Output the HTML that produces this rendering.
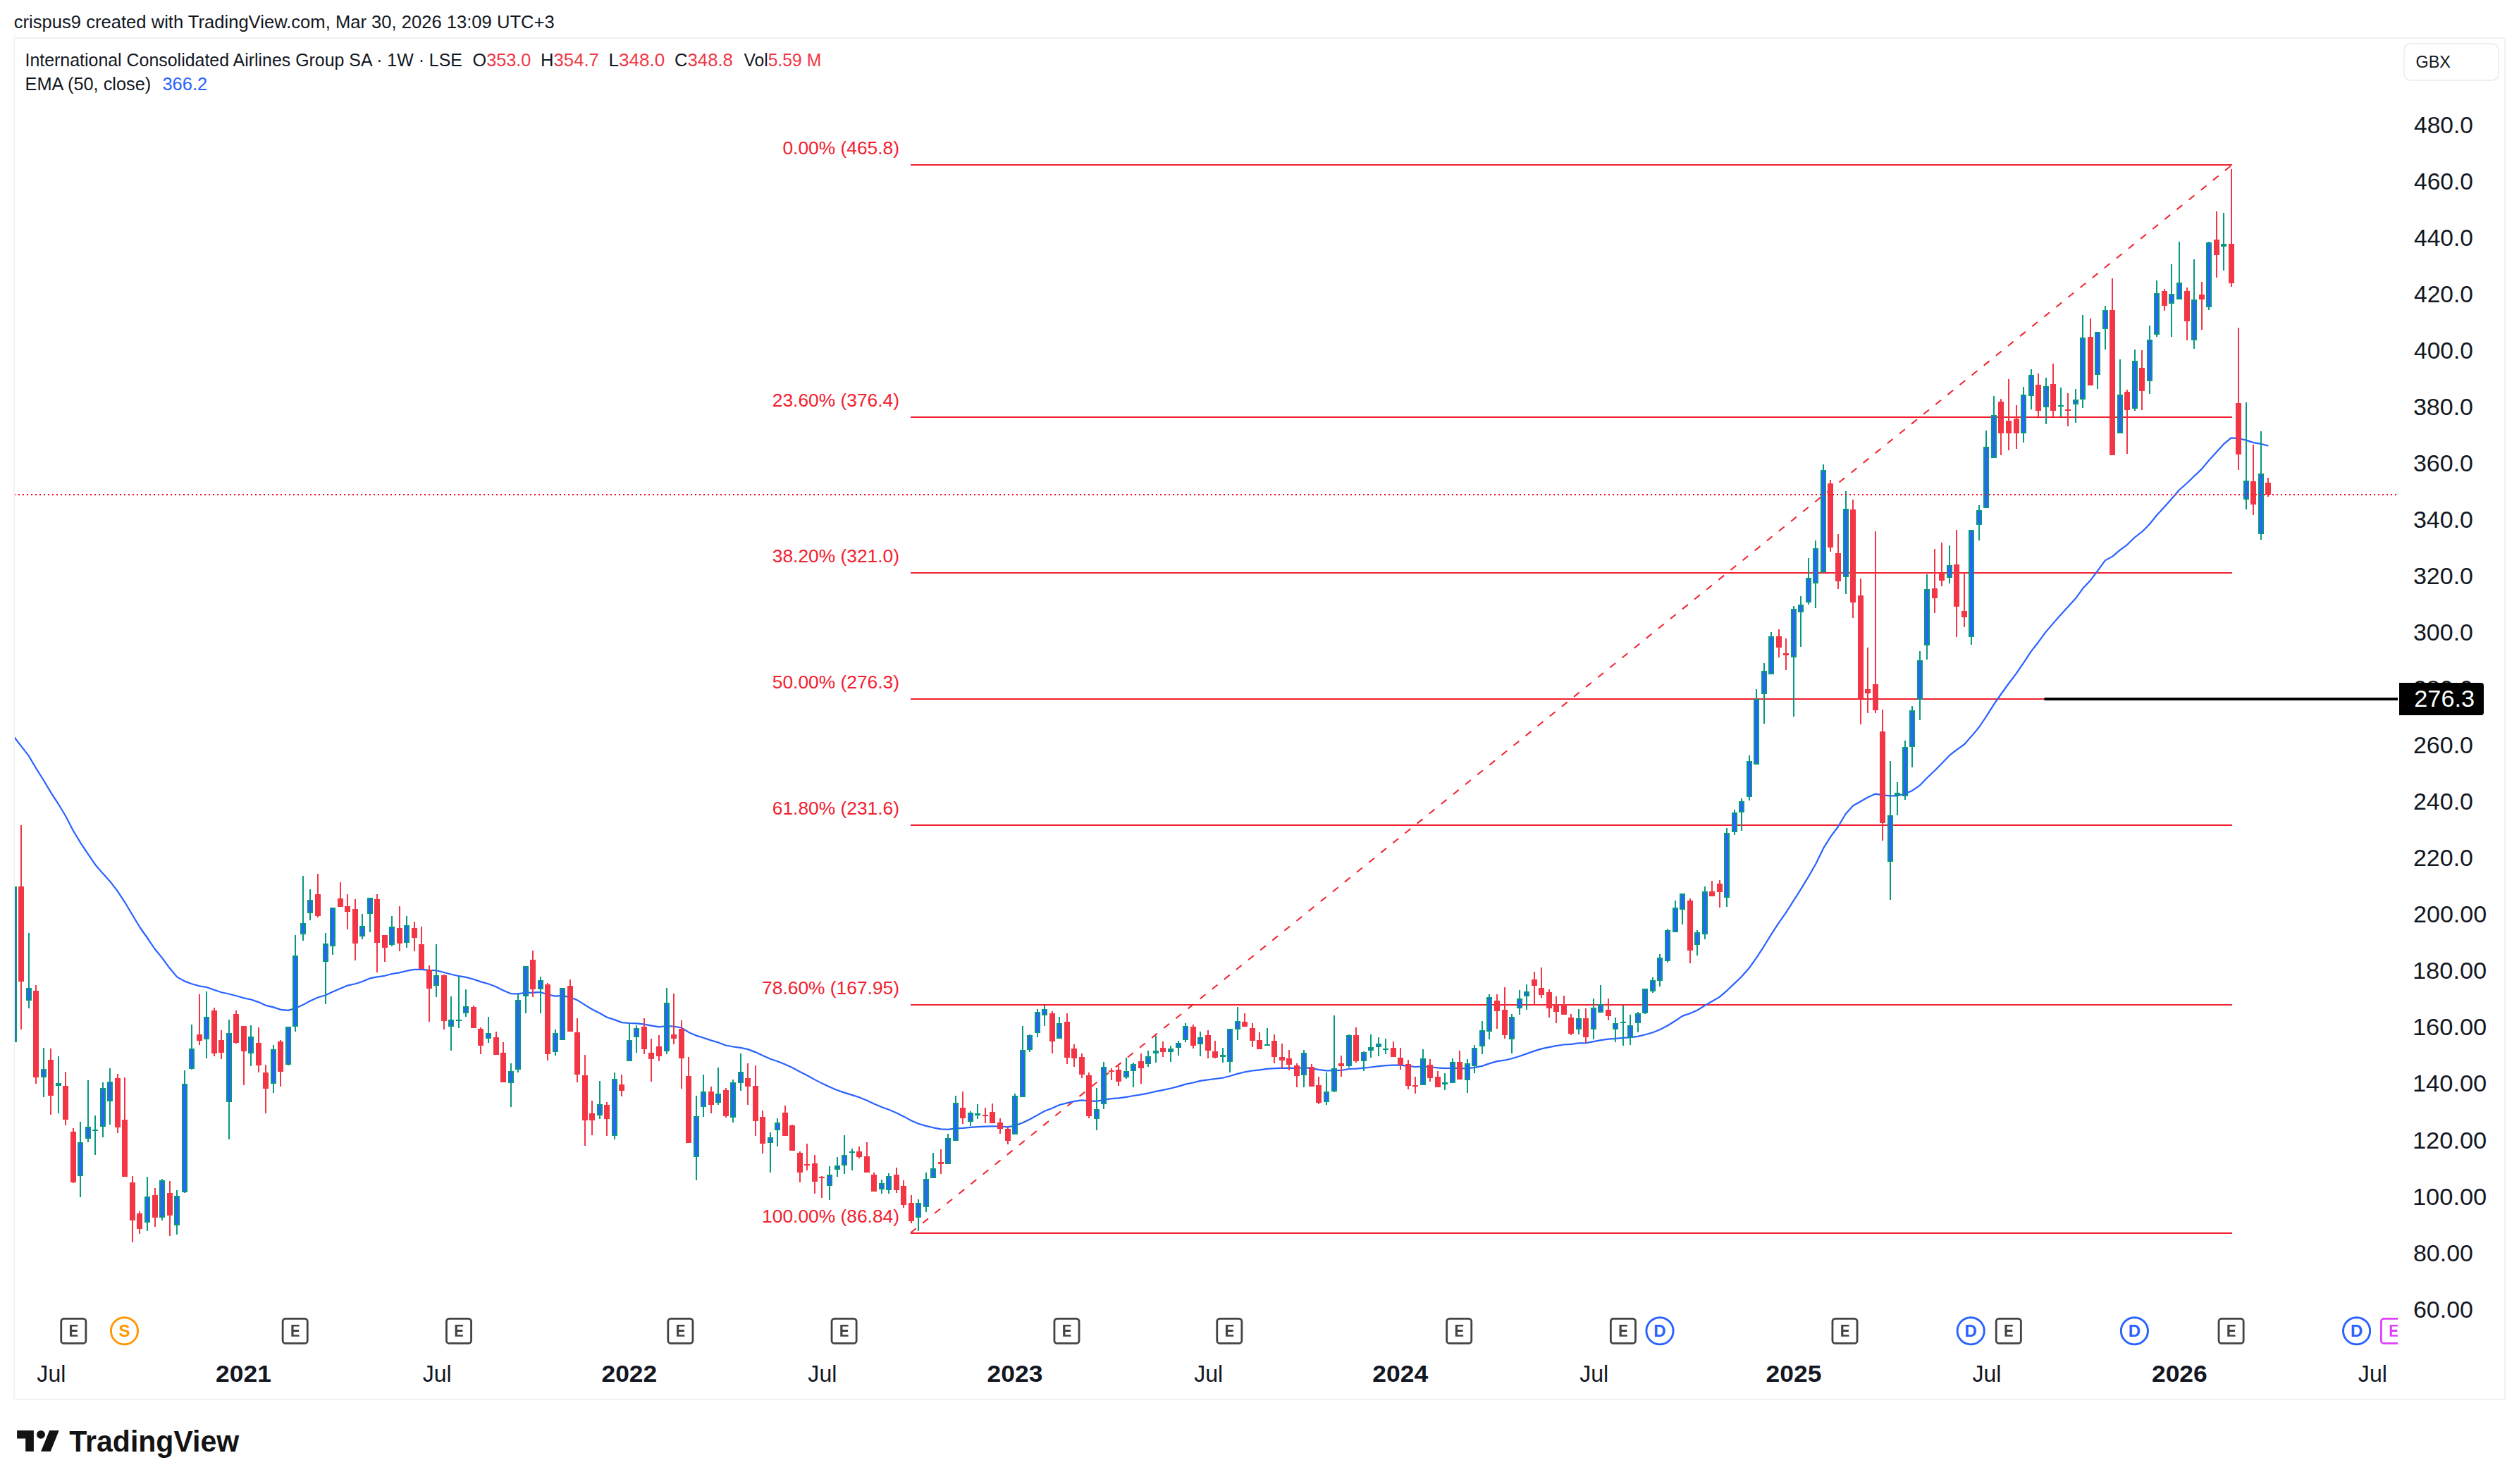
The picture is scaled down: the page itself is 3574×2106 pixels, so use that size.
<!DOCTYPE html><html><head><meta charset="utf-8"><title>IAG 1W TradingView</title><style>html,body{margin:0;padding:0;background:#fff}body{width:3574px;height:2106px;overflow:hidden;position:relative}svg{position:absolute;left:0;top:0}text{font-family:"Liberation Sans",sans-serif;white-space:pre}</style></head><body>
<svg width="3574" height="2106" viewBox="0 0 3574 2106">
<rect width="3574" height="2106" fill="#ffffff"/>
<rect x="20" y="54" width="3534" height="1932" fill="none" stroke="#f2f2f2" stroke-width="2"/>
<defs><clipPath id="pane"><rect x="21" y="55" width="3381" height="1930"/></clipPath></defs>
<g clip-path="url(#pane)">
<rect x="1292" y="233" width="1875" height="2" fill="#f2202f"/>
<text x="1110.46" y="219" font-size="25.5" fill="#f2202f" textLength="165.58" lengthAdjust="spacingAndGlyphs">0.00% (465.8)</text>
<rect x="1292" y="591" width="1875" height="2" fill="#f2202f"/>
<text x="1095.80" y="577" font-size="25.5" fill="#f2202f" textLength="180.24" lengthAdjust="spacingAndGlyphs">23.60% (376.4)</text>
<rect x="1292" y="812" width="1875" height="2" fill="#f2202f"/>
<text x="1095.80" y="798" font-size="25.5" fill="#f2202f" textLength="180.24" lengthAdjust="spacingAndGlyphs">38.20% (321.0)</text>
<rect x="1292" y="991" width="1875" height="2" fill="#f2202f"/>
<text x="1095.80" y="977" font-size="25.5" fill="#f2202f" textLength="180.24" lengthAdjust="spacingAndGlyphs">50.00% (276.3)</text>
<rect x="1292" y="1170" width="1875" height="2" fill="#f2202f"/>
<text x="1095.80" y="1156" font-size="25.5" fill="#f2202f" textLength="180.24" lengthAdjust="spacingAndGlyphs">61.80% (231.6)</text>
<rect x="1292" y="1425" width="1875" height="2" fill="#f2202f"/>
<text x="1081.14" y="1411" font-size="25.5" fill="#f2202f" textLength="194.90" lengthAdjust="spacingAndGlyphs">78.60% (167.95)</text>
<rect x="1292" y="1749" width="1875" height="2" fill="#f2202f"/>
<text x="1081.14" y="1735" font-size="25.5" fill="#f2202f" textLength="194.90" lengthAdjust="spacingAndGlyphs">100.00% (86.84)</text>
<line x1="1292" y1="1749.5" x2="3167" y2="233.9" stroke="#f2202f" stroke-width="2" stroke-dasharray="10 12"/>
<polyline points="19.6,1045.3 30.1,1058.9 40.6,1072.4 51.2,1090.3 61.7,1107.0 72.2,1124.6 82.7,1140.8 93.2,1158.3 103.8,1178.7 114.3,1196.1 124.8,1211.9 135.3,1227.2 145.9,1239.6 156.4,1251.2 166.9,1264.9 177.4,1280.8 187.9,1298.5 198.5,1316.0 209.0,1331.0 219.5,1346.5 230.0,1359.4 240.6,1373.8 251.1,1386.4 261.6,1392.4 272.1,1396.2 282.6,1399.3 293.2,1401.0 303.7,1404.7 314.2,1408.2 324.7,1410.5 335.2,1413.2 345.8,1416.3 356.3,1418.5 366.8,1422.1 377.3,1426.9 387.9,1429.4 398.4,1432.9 408.9,1433.9 419.4,1430.8 429.9,1426.1 440.5,1420.2 451.0,1415.5 461.5,1412.5 472.0,1407.6 482.6,1402.9 493.1,1398.6 503.6,1396.3 514.1,1393.0 524.6,1388.4 535.2,1386.4 545.7,1384.8 556.2,1382.0 566.7,1380.4 577.3,1377.7 587.8,1375.9 598.3,1375.9 608.8,1376.9 619.3,1377.2 629.9,1380.0 640.4,1382.7 650.9,1385.2 661.4,1386.9 672.0,1389.7 682.5,1393.4 693.0,1396.3 703.5,1400.2 714.0,1405.6 724.6,1410.1 735.1,1410.4 745.6,1408.9 756.1,1408.7 766.7,1408.0 777.2,1411.5 787.7,1413.6 798.2,1413.1 808.7,1415.1 819.3,1419.4 829.8,1426.1 840.3,1432.5 850.8,1437.8 861.4,1443.7 871.9,1447.1 882.4,1451.1 892.9,1452.0 903.4,1452.3 914.0,1453.7 924.5,1455.6 935.0,1457.3 945.5,1456.0 956.0,1456.7 966.6,1458.5 977.1,1464.9 987.6,1469.6 998.1,1472.7 1008.7,1476.4 1019.2,1479.4 1029.7,1483.5 1040.2,1485.5 1050.7,1486.9 1061.3,1489.1 1071.8,1493.1 1082.3,1498.1 1092.8,1502.7 1103.4,1506.2 1113.9,1510.4 1124.4,1515.2 1134.9,1521.0 1145.4,1526.2 1156.0,1532.1 1166.5,1537.6 1177.0,1542.6 1187.5,1547.0 1198.1,1550.6 1208.6,1553.9 1219.1,1557.3 1229.6,1561.5 1240.1,1566.6 1250.7,1571.0 1261.2,1574.8 1271.7,1579.3 1282.2,1584.4 1292.8,1590.2 1303.3,1594.8 1313.8,1597.9 1324.3,1600.3 1334.8,1602.3 1345.4,1602.8 1355.9,1601.3 1366.4,1600.8 1376.9,1599.9 1387.5,1599.1 1398.0,1598.6 1408.5,1598.4 1419.0,1598.5 1429.5,1599.3 1440.1,1597.6 1450.6,1593.4 1461.1,1588.5 1471.6,1582.6 1482.1,1576.7 1492.7,1572.8 1503.2,1568.0 1513.7,1565.4 1524.2,1562.9 1534.8,1561.4 1545.3,1562.3 1555.8,1562.8 1566.3,1560.9 1576.8,1559.2 1587.4,1558.3 1597.9,1556.8 1608.4,1555.0 1618.9,1553.4 1629.5,1551.3 1640.0,1548.9 1650.5,1546.8 1661.0,1544.5 1671.5,1541.9 1682.1,1538.6 1692.6,1536.5 1703.1,1533.9 1713.6,1532.3 1724.2,1531.0 1734.7,1529.7 1745.2,1527.0 1755.7,1523.9 1766.2,1521.3 1776.8,1519.5 1787.3,1518.3 1797.8,1516.9 1808.3,1516.2 1818.9,1515.8 1829.4,1515.6 1839.9,1516.0 1850.4,1515.2 1860.9,1516.2 1871.5,1518.1 1882.0,1519.3 1892.5,1519.2 1903.0,1519.0 1913.6,1517.0 1924.1,1516.6 1934.6,1515.6 1945.1,1514.5 1955.6,1513.2 1966.2,1512.2 1976.7,1511.7 1987.2,1511.7 1997.7,1512.8 2008.2,1514.0 2018.8,1513.5 2029.3,1514.2 2039.8,1515.3 2050.3,1516.1 2060.9,1515.7 2071.4,1516.3 2081.9,1516.1 2092.4,1514.9 2102.9,1512.9 2113.5,1509.1 2124.0,1506.1 2134.5,1504.7 2145.0,1502.3 2155.6,1499.0 2166.1,1495.4 2176.6,1491.6 2187.1,1488.4 2197.6,1486.2 2208.2,1484.2 2218.7,1482.5 2229.2,1481.8 2239.7,1480.4 2250.3,1480.1 2260.8,1478.1 2271.3,1476.1 2281.8,1474.7 2292.3,1473.8 2302.9,1472.9 2313.4,1472.2 2323.9,1470.9 2334.4,1468.2 2345.0,1465.2 2355.5,1461.0 2366.0,1455.5 2376.5,1449.0 2387.0,1441.9 2397.6,1438.2 2408.1,1433.7 2418.6,1427.1 2429.1,1421.0 2439.7,1414.9 2450.2,1405.8 2460.7,1395.9 2471.2,1385.8 2481.7,1373.8 2492.3,1358.8 2502.8,1342.8 2513.3,1325.6 2523.8,1309.6 2534.3,1294.7 2544.9,1277.9 2555.4,1261.4 2565.9,1244.1 2576.4,1225.8 2587.0,1203.9 2597.5,1187.2 2608.0,1173.0 2618.5,1155.3 2629.0,1143.5 2639.6,1137.5 2650.1,1131.5 2660.6,1126.7 2671.1,1128.3 2681.7,1129.4 2692.2,1129.3 2702.7,1126.6 2713.2,1121.9 2723.7,1114.7 2734.3,1103.8 2744.8,1093.8 2755.3,1083.2 2765.8,1072.2 2776.4,1063.9 2786.9,1056.5 2797.4,1044.6 2807.9,1032.0 2818.4,1016.4 2829.0,999.6 2839.5,984.5 2850.0,970.0 2860.5,956.1 2871.1,940.6 2881.6,924.6 2892.1,911.2 2902.6,896.9 2913.1,884.6 2923.7,872.5 2934.2,861.1 2944.7,849.6 2955.2,835.1 2965.8,823.8 2976.3,809.9 2986.8,795.4 2997.3,789.6 3007.8,780.6 3018.4,772.8 3028.9,762.5 3039.4,754.4 3049.9,743.7 3060.4,730.8 3071.0,719.2 3081.5,707.4 3092.0,695.3 3102.5,686.0 3113.1,675.7 3123.6,665.9 3134.1,653.2 3144.6,641.8 3155.1,630.2 3165.7,621.3 3176.2,622.2 3186.7,624.6 3197.2,628.1 3207.8,629.9 3218.3,632.7" fill="none" stroke="#2962ff" stroke-width="2.2" stroke-linejoin="round"/>
<rect x="19" y="1256" width="2" height="234" fill="#089981"/>
<rect x="16" y="1258" width="8" height="221" fill="#089981"/>
<rect x="18" y="1260" width="4" height="217" fill="#2962ff"/>
<rect x="29" y="1171" width="2" height="290" fill="#f23645"/>
<rect x="26" y="1258" width="8" height="135" fill="#f23645"/>
<rect x="40" y="1324" width="2" height="107" fill="#089981"/>
<rect x="37" y="1402" width="8" height="18" fill="#089981"/>
<rect x="39" y="1404" width="4" height="14" fill="#2962ff"/>
<rect x="50" y="1398" width="2" height="140" fill="#f23645"/>
<rect x="47" y="1406" width="8" height="123" fill="#f23645"/>
<rect x="61" y="1487" width="2" height="70" fill="#089981"/>
<rect x="58" y="1517" width="8" height="12" fill="#089981"/>
<rect x="60" y="1519" width="4" height="8" fill="#2962ff"/>
<rect x="71" y="1488" width="2" height="94" fill="#f23645"/>
<rect x="68" y="1504" width="8" height="51" fill="#f23645"/>
<rect x="82" y="1499" width="2" height="81" fill="#089981"/>
<rect x="79" y="1537" width="8" height="4" fill="#089981"/>
<rect x="92" y="1521" width="2" height="76" fill="#f23645"/>
<rect x="89" y="1541" width="8" height="48" fill="#f23645"/>
<rect x="103" y="1601" width="2" height="78" fill="#f23645"/>
<rect x="100" y="1606" width="8" height="72" fill="#f23645"/>
<rect x="113" y="1592" width="2" height="107" fill="#089981"/>
<rect x="110" y="1621" width="8" height="48" fill="#089981"/>
<rect x="112" y="1623" width="4" height="44" fill="#2962ff"/>
<rect x="124" y="1533" width="2" height="88" fill="#089981"/>
<rect x="121" y="1599" width="8" height="17" fill="#089981"/>
<rect x="123" y="1601" width="4" height="13" fill="#2962ff"/>
<rect x="134" y="1583" width="2" height="56" fill="#089981"/>
<rect x="131" y="1603" width="8" height="2" fill="#089981"/>
<rect x="145" y="1536" width="2" height="78" fill="#089981"/>
<rect x="142" y="1544" width="8" height="55" fill="#089981"/>
<rect x="144" y="1546" width="4" height="51" fill="#2962ff"/>
<rect x="155" y="1516" width="2" height="80" fill="#089981"/>
<rect x="152" y="1535" width="8" height="28" fill="#089981"/>
<rect x="154" y="1537" width="4" height="24" fill="#2962ff"/>
<rect x="166" y="1524" width="2" height="84" fill="#f23645"/>
<rect x="163" y="1530" width="8" height="70" fill="#f23645"/>
<rect x="176" y="1529" width="2" height="141" fill="#f23645"/>
<rect x="173" y="1589" width="8" height="81" fill="#f23645"/>
<rect x="187" y="1669" width="2" height="94" fill="#f23645"/>
<rect x="184" y="1678" width="8" height="54" fill="#f23645"/>
<rect x="197" y="1719" width="2" height="32" fill="#f23645"/>
<rect x="194" y="1722" width="8" height="22" fill="#f23645"/>
<rect x="208" y="1670" width="2" height="77" fill="#089981"/>
<rect x="205" y="1698" width="8" height="37" fill="#089981"/>
<rect x="207" y="1700" width="4" height="33" fill="#2962ff"/>
<rect x="219" y="1686" width="2" height="55" fill="#f23645"/>
<rect x="216" y="1696" width="8" height="32" fill="#f23645"/>
<rect x="229" y="1673" width="2" height="59" fill="#089981"/>
<rect x="226" y="1675" width="8" height="53" fill="#089981"/>
<rect x="228" y="1677" width="4" height="49" fill="#2962ff"/>
<rect x="240" y="1676" width="2" height="78" fill="#f23645"/>
<rect x="237" y="1693" width="8" height="32" fill="#f23645"/>
<rect x="250" y="1689" width="2" height="63" fill="#089981"/>
<rect x="247" y="1697" width="8" height="42" fill="#089981"/>
<rect x="249" y="1699" width="4" height="38" fill="#2962ff"/>
<rect x="261" y="1519" width="2" height="174" fill="#089981"/>
<rect x="258" y="1538" width="8" height="154" fill="#089981"/>
<rect x="260" y="1540" width="4" height="150" fill="#2962ff"/>
<rect x="271" y="1454" width="2" height="64" fill="#089981"/>
<rect x="268" y="1488" width="8" height="29" fill="#089981"/>
<rect x="270" y="1490" width="4" height="25" fill="#2962ff"/>
<rect x="282" y="1411" width="2" height="72" fill="#f23645"/>
<rect x="279" y="1468" width="8" height="9" fill="#f23645"/>
<rect x="292" y="1407" width="2" height="95" fill="#089981"/>
<rect x="289" y="1443" width="8" height="32" fill="#089981"/>
<rect x="291" y="1445" width="4" height="28" fill="#2962ff"/>
<rect x="303" y="1430" width="2" height="69" fill="#f23645"/>
<rect x="300" y="1434" width="8" height="61" fill="#f23645"/>
<rect x="313" y="1462" width="2" height="41" fill="#f23645"/>
<rect x="310" y="1476" width="8" height="18" fill="#f23645"/>
<rect x="324" y="1447" width="2" height="170" fill="#089981"/>
<rect x="321" y="1466" width="8" height="98" fill="#089981"/>
<rect x="323" y="1468" width="4" height="94" fill="#2962ff"/>
<rect x="334" y="1434" width="2" height="47" fill="#f23645"/>
<rect x="331" y="1439" width="8" height="41" fill="#f23645"/>
<rect x="345" y="1456" width="2" height="84" fill="#f23645"/>
<rect x="342" y="1456" width="8" height="36" fill="#f23645"/>
<rect x="355" y="1455" width="2" height="58" fill="#089981"/>
<rect x="352" y="1471" width="8" height="24" fill="#089981"/>
<rect x="354" y="1473" width="4" height="20" fill="#2962ff"/>
<rect x="366" y="1458" width="2" height="64" fill="#f23645"/>
<rect x="363" y="1480" width="8" height="32" fill="#f23645"/>
<rect x="376" y="1511" width="2" height="69" fill="#f23645"/>
<rect x="373" y="1522" width="8" height="23" fill="#f23645"/>
<rect x="387" y="1483" width="2" height="68" fill="#089981"/>
<rect x="384" y="1489" width="8" height="49" fill="#089981"/>
<rect x="386" y="1491" width="4" height="45" fill="#2962ff"/>
<rect x="397" y="1476" width="2" height="66" fill="#f23645"/>
<rect x="394" y="1478" width="8" height="43" fill="#f23645"/>
<rect x="408" y="1457" width="2" height="55" fill="#089981"/>
<rect x="405" y="1457" width="8" height="54" fill="#089981"/>
<rect x="407" y="1459" width="4" height="50" fill="#2962ff"/>
<rect x="418" y="1327" width="2" height="137" fill="#089981"/>
<rect x="415" y="1356" width="8" height="101" fill="#089981"/>
<rect x="417" y="1358" width="4" height="97" fill="#2962ff"/>
<rect x="429" y="1243" width="2" height="92" fill="#089981"/>
<rect x="426" y="1310" width="8" height="16" fill="#089981"/>
<rect x="428" y="1312" width="4" height="12" fill="#2962ff"/>
<rect x="439" y="1262" width="2" height="44" fill="#089981"/>
<rect x="436" y="1277" width="8" height="19" fill="#089981"/>
<rect x="438" y="1279" width="4" height="15" fill="#2962ff"/>
<rect x="450" y="1240" width="2" height="62" fill="#f23645"/>
<rect x="447" y="1269" width="8" height="31" fill="#f23645"/>
<rect x="461" y="1324" width="2" height="101" fill="#089981"/>
<rect x="458" y="1339" width="8" height="26" fill="#089981"/>
<rect x="460" y="1341" width="4" height="22" fill="#2962ff"/>
<rect x="471" y="1288" width="2" height="67" fill="#089981"/>
<rect x="468" y="1288" width="8" height="55" fill="#089981"/>
<rect x="470" y="1290" width="4" height="51" fill="#2962ff"/>
<rect x="482" y="1252" width="2" height="35" fill="#f23645"/>
<rect x="479" y="1275" width="8" height="12" fill="#f23645"/>
<rect x="492" y="1269" width="2" height="50" fill="#f23645"/>
<rect x="489" y="1286" width="8" height="8" fill="#f23645"/>
<rect x="503" y="1276" width="2" height="87" fill="#f23645"/>
<rect x="500" y="1290" width="8" height="49" fill="#f23645"/>
<rect x="513" y="1297" width="2" height="36" fill="#089981"/>
<rect x="510" y="1314" width="8" height="15" fill="#089981"/>
<rect x="512" y="1316" width="4" height="11" fill="#2962ff"/>
<rect x="524" y="1274" width="2" height="49" fill="#089981"/>
<rect x="521" y="1274" width="8" height="23" fill="#089981"/>
<rect x="523" y="1276" width="4" height="19" fill="#2962ff"/>
<rect x="534" y="1269" width="2" height="111" fill="#f23645"/>
<rect x="531" y="1276" width="8" height="62" fill="#f23645"/>
<rect x="545" y="1327" width="2" height="38" fill="#f23645"/>
<rect x="542" y="1327" width="8" height="18" fill="#f23645"/>
<rect x="555" y="1300" width="2" height="43" fill="#089981"/>
<rect x="552" y="1315" width="8" height="26" fill="#089981"/>
<rect x="554" y="1317" width="4" height="22" fill="#2962ff"/>
<rect x="566" y="1286" width="2" height="64" fill="#f23645"/>
<rect x="563" y="1317" width="8" height="22" fill="#f23645"/>
<rect x="576" y="1300" width="2" height="45" fill="#089981"/>
<rect x="573" y="1313" width="8" height="25" fill="#089981"/>
<rect x="575" y="1315" width="4" height="21" fill="#2962ff"/>
<rect x="587" y="1308" width="2" height="42" fill="#f23645"/>
<rect x="584" y="1317" width="8" height="14" fill="#f23645"/>
<rect x="597" y="1315" width="2" height="60" fill="#f23645"/>
<rect x="594" y="1340" width="8" height="35" fill="#f23645"/>
<rect x="608" y="1370" width="2" height="80" fill="#f23645"/>
<rect x="605" y="1376" width="8" height="27" fill="#f23645"/>
<rect x="618" y="1340" width="2" height="75" fill="#089981"/>
<rect x="615" y="1384" width="8" height="15" fill="#089981"/>
<rect x="617" y="1386" width="4" height="11" fill="#2962ff"/>
<rect x="629" y="1383" width="2" height="78" fill="#f23645"/>
<rect x="626" y="1384" width="8" height="65" fill="#f23645"/>
<rect x="639" y="1414" width="2" height="77" fill="#089981"/>
<rect x="636" y="1447" width="8" height="10" fill="#089981"/>
<rect x="638" y="1449" width="4" height="6" fill="#2962ff"/>
<rect x="650" y="1385" width="2" height="74" fill="#089981"/>
<rect x="647" y="1447" width="8" height="2" fill="#089981"/>
<rect x="660" y="1404" width="2" height="39" fill="#089981"/>
<rect x="657" y="1428" width="8" height="10" fill="#089981"/>
<rect x="659" y="1430" width="4" height="6" fill="#2962ff"/>
<rect x="671" y="1427" width="2" height="32" fill="#f23645"/>
<rect x="668" y="1429" width="8" height="30" fill="#f23645"/>
<rect x="681" y="1458" width="2" height="38" fill="#f23645"/>
<rect x="678" y="1460" width="8" height="24" fill="#f23645"/>
<rect x="692" y="1443" width="2" height="37" fill="#089981"/>
<rect x="689" y="1466" width="8" height="8" fill="#089981"/>
<rect x="691" y="1468" width="4" height="4" fill="#2962ff"/>
<rect x="703" y="1464" width="2" height="33" fill="#f23645"/>
<rect x="700" y="1472" width="8" height="25" fill="#f23645"/>
<rect x="713" y="1479" width="2" height="57" fill="#f23645"/>
<rect x="710" y="1494" width="8" height="42" fill="#f23645"/>
<rect x="724" y="1509" width="2" height="62" fill="#089981"/>
<rect x="721" y="1520" width="8" height="17" fill="#089981"/>
<rect x="723" y="1522" width="4" height="13" fill="#2962ff"/>
<rect x="734" y="1411" width="2" height="111" fill="#089981"/>
<rect x="731" y="1419" width="8" height="99" fill="#089981"/>
<rect x="733" y="1421" width="4" height="95" fill="#2962ff"/>
<rect x="745" y="1371" width="2" height="67" fill="#089981"/>
<rect x="742" y="1371" width="8" height="43" fill="#089981"/>
<rect x="744" y="1373" width="4" height="39" fill="#2962ff"/>
<rect x="755" y="1349" width="2" height="66" fill="#f23645"/>
<rect x="752" y="1362" width="8" height="42" fill="#f23645"/>
<rect x="766" y="1386" width="2" height="52" fill="#089981"/>
<rect x="763" y="1391" width="8" height="13" fill="#089981"/>
<rect x="765" y="1393" width="4" height="9" fill="#2962ff"/>
<rect x="776" y="1395" width="2" height="110" fill="#f23645"/>
<rect x="773" y="1397" width="8" height="99" fill="#f23645"/>
<rect x="787" y="1461" width="2" height="37" fill="#089981"/>
<rect x="784" y="1466" width="8" height="27" fill="#089981"/>
<rect x="786" y="1468" width="4" height="23" fill="#2962ff"/>
<rect x="797" y="1402" width="2" height="74" fill="#089981"/>
<rect x="794" y="1402" width="8" height="74" fill="#089981"/>
<rect x="796" y="1404" width="4" height="70" fill="#2962ff"/>
<rect x="808" y="1390" width="2" height="74" fill="#f23645"/>
<rect x="805" y="1399" width="8" height="65" fill="#f23645"/>
<rect x="818" y="1445" width="2" height="91" fill="#f23645"/>
<rect x="815" y="1465" width="8" height="60" fill="#f23645"/>
<rect x="829" y="1497" width="2" height="129" fill="#f23645"/>
<rect x="826" y="1526" width="8" height="64" fill="#f23645"/>
<rect x="839" y="1562" width="2" height="49" fill="#f23645"/>
<rect x="836" y="1580" width="8" height="10" fill="#f23645"/>
<rect x="850" y="1534" width="2" height="54" fill="#089981"/>
<rect x="847" y="1567" width="8" height="16" fill="#089981"/>
<rect x="849" y="1569" width="4" height="12" fill="#2962ff"/>
<rect x="860" y="1564" width="2" height="48" fill="#f23645"/>
<rect x="857" y="1568" width="8" height="20" fill="#f23645"/>
<rect x="871" y="1522" width="2" height="95" fill="#089981"/>
<rect x="868" y="1531" width="8" height="81" fill="#089981"/>
<rect x="870" y="1533" width="4" height="77" fill="#2962ff"/>
<rect x="881" y="1525" width="2" height="31" fill="#f23645"/>
<rect x="878" y="1539" width="8" height="9" fill="#f23645"/>
<rect x="892" y="1452" width="2" height="54" fill="#089981"/>
<rect x="889" y="1476" width="8" height="30" fill="#089981"/>
<rect x="891" y="1478" width="4" height="26" fill="#2962ff"/>
<rect x="902" y="1455" width="2" height="39" fill="#089981"/>
<rect x="899" y="1459" width="8" height="13" fill="#089981"/>
<rect x="901" y="1461" width="4" height="9" fill="#2962ff"/>
<rect x="913" y="1445" width="2" height="51" fill="#f23645"/>
<rect x="910" y="1457" width="8" height="32" fill="#f23645"/>
<rect x="923" y="1474" width="2" height="61" fill="#f23645"/>
<rect x="920" y="1494" width="8" height="9" fill="#f23645"/>
<rect x="934" y="1469" width="2" height="37" fill="#f23645"/>
<rect x="931" y="1485" width="8" height="14" fill="#f23645"/>
<rect x="945" y="1402" width="2" height="94" fill="#089981"/>
<rect x="942" y="1423" width="8" height="69" fill="#089981"/>
<rect x="944" y="1425" width="4" height="65" fill="#2962ff"/>
<rect x="955" y="1410" width="2" height="72" fill="#f23645"/>
<rect x="952" y="1468" width="8" height="6" fill="#f23645"/>
<rect x="966" y="1448" width="2" height="97" fill="#f23645"/>
<rect x="963" y="1460" width="8" height="42" fill="#f23645"/>
<rect x="976" y="1500" width="2" height="122" fill="#f23645"/>
<rect x="973" y="1527" width="8" height="95" fill="#f23645"/>
<rect x="987" y="1555" width="2" height="120" fill="#089981"/>
<rect x="984" y="1584" width="8" height="58" fill="#089981"/>
<rect x="986" y="1586" width="4" height="54" fill="#2962ff"/>
<rect x="997" y="1525" width="2" height="60" fill="#089981"/>
<rect x="994" y="1549" width="8" height="22" fill="#089981"/>
<rect x="996" y="1551" width="4" height="18" fill="#2962ff"/>
<rect x="1008" y="1542" width="2" height="38" fill="#f23645"/>
<rect x="1005" y="1549" width="8" height="19" fill="#f23645"/>
<rect x="1018" y="1515" width="2" height="53" fill="#089981"/>
<rect x="1015" y="1552" width="8" height="13" fill="#089981"/>
<rect x="1017" y="1554" width="4" height="9" fill="#2962ff"/>
<rect x="1029" y="1544" width="2" height="42" fill="#f23645"/>
<rect x="1026" y="1547" width="8" height="37" fill="#f23645"/>
<rect x="1039" y="1532" width="2" height="61" fill="#089981"/>
<rect x="1036" y="1536" width="8" height="50" fill="#089981"/>
<rect x="1038" y="1538" width="4" height="46" fill="#2962ff"/>
<rect x="1050" y="1495" width="2" height="53" fill="#089981"/>
<rect x="1047" y="1521" width="8" height="16" fill="#089981"/>
<rect x="1049" y="1523" width="4" height="12" fill="#2962ff"/>
<rect x="1060" y="1509" width="2" height="59" fill="#f23645"/>
<rect x="1057" y="1530" width="8" height="12" fill="#f23645"/>
<rect x="1071" y="1512" width="2" height="100" fill="#f23645"/>
<rect x="1068" y="1541" width="8" height="50" fill="#f23645"/>
<rect x="1081" y="1576" width="2" height="61" fill="#f23645"/>
<rect x="1078" y="1585" width="8" height="38" fill="#f23645"/>
<rect x="1092" y="1607" width="2" height="57" fill="#089981"/>
<rect x="1089" y="1614" width="8" height="8" fill="#089981"/>
<rect x="1091" y="1616" width="4" height="4" fill="#2962ff"/>
<rect x="1102" y="1587" width="2" height="40" fill="#089981"/>
<rect x="1099" y="1593" width="8" height="11" fill="#089981"/>
<rect x="1101" y="1595" width="4" height="7" fill="#2962ff"/>
<rect x="1113" y="1569" width="2" height="43" fill="#f23645"/>
<rect x="1110" y="1579" width="8" height="33" fill="#f23645"/>
<rect x="1123" y="1596" width="2" height="37" fill="#f23645"/>
<rect x="1120" y="1597" width="8" height="36" fill="#f23645"/>
<rect x="1134" y="1634" width="2" height="44" fill="#f23645"/>
<rect x="1131" y="1636" width="8" height="28" fill="#f23645"/>
<rect x="1144" y="1623" width="2" height="38" fill="#f23645"/>
<rect x="1141" y="1652" width="8" height="2" fill="#f23645"/>
<rect x="1155" y="1639" width="2" height="55" fill="#f23645"/>
<rect x="1152" y="1651" width="8" height="26" fill="#f23645"/>
<rect x="1165" y="1669" width="2" height="31" fill="#f23645"/>
<rect x="1162" y="1670" width="8" height="2" fill="#f23645"/>
<rect x="1176" y="1655" width="2" height="48" fill="#089981"/>
<rect x="1173" y="1667" width="8" height="16" fill="#089981"/>
<rect x="1175" y="1669" width="4" height="12" fill="#2962ff"/>
<rect x="1187" y="1642" width="2" height="28" fill="#089981"/>
<rect x="1184" y="1654" width="8" height="6" fill="#089981"/>
<rect x="1186" y="1656" width="4" height="2" fill="#2962ff"/>
<rect x="1197" y="1611" width="2" height="55" fill="#089981"/>
<rect x="1194" y="1639" width="8" height="15" fill="#089981"/>
<rect x="1196" y="1641" width="4" height="11" fill="#2962ff"/>
<rect x="1208" y="1630" width="2" height="31" fill="#089981"/>
<rect x="1205" y="1634" width="8" height="2" fill="#089981"/>
<rect x="1218" y="1627" width="2" height="17" fill="#f23645"/>
<rect x="1215" y="1634" width="8" height="8" fill="#f23645"/>
<rect x="1229" y="1621" width="2" height="43" fill="#f23645"/>
<rect x="1226" y="1641" width="8" height="23" fill="#f23645"/>
<rect x="1239" y="1664" width="2" height="27" fill="#f23645"/>
<rect x="1236" y="1667" width="8" height="24" fill="#f23645"/>
<rect x="1250" y="1674" width="2" height="20" fill="#089981"/>
<rect x="1247" y="1679" width="8" height="9" fill="#089981"/>
<rect x="1249" y="1681" width="4" height="5" fill="#2962ff"/>
<rect x="1260" y="1665" width="2" height="29" fill="#089981"/>
<rect x="1257" y="1669" width="8" height="20" fill="#089981"/>
<rect x="1259" y="1671" width="4" height="16" fill="#2962ff"/>
<rect x="1271" y="1657" width="2" height="36" fill="#f23645"/>
<rect x="1268" y="1667" width="8" height="22" fill="#f23645"/>
<rect x="1281" y="1675" width="2" height="39" fill="#f23645"/>
<rect x="1278" y="1683" width="8" height="27" fill="#f23645"/>
<rect x="1292" y="1696" width="2" height="40" fill="#f23645"/>
<rect x="1289" y="1707" width="8" height="26" fill="#f23645"/>
<rect x="1302" y="1702" width="2" height="45" fill="#089981"/>
<rect x="1299" y="1707" width="8" height="21" fill="#089981"/>
<rect x="1301" y="1709" width="4" height="17" fill="#2962ff"/>
<rect x="1313" y="1664" width="2" height="56" fill="#089981"/>
<rect x="1310" y="1673" width="8" height="40" fill="#089981"/>
<rect x="1312" y="1675" width="4" height="36" fill="#2962ff"/>
<rect x="1323" y="1636" width="2" height="36" fill="#089981"/>
<rect x="1320" y="1658" width="8" height="14" fill="#089981"/>
<rect x="1322" y="1660" width="4" height="10" fill="#2962ff"/>
<rect x="1334" y="1631" width="2" height="35" fill="#f23645"/>
<rect x="1331" y="1649" width="8" height="3" fill="#f23645"/>
<rect x="1344" y="1609" width="2" height="43" fill="#089981"/>
<rect x="1341" y="1615" width="8" height="37" fill="#089981"/>
<rect x="1343" y="1617" width="4" height="33" fill="#2962ff"/>
<rect x="1355" y="1555" width="2" height="64" fill="#089981"/>
<rect x="1352" y="1565" width="8" height="54" fill="#089981"/>
<rect x="1354" y="1567" width="4" height="50" fill="#2962ff"/>
<rect x="1365" y="1549" width="2" height="46" fill="#f23645"/>
<rect x="1362" y="1572" width="8" height="15" fill="#f23645"/>
<rect x="1376" y="1577" width="2" height="21" fill="#089981"/>
<rect x="1373" y="1579" width="8" height="13" fill="#089981"/>
<rect x="1375" y="1581" width="4" height="9" fill="#2962ff"/>
<rect x="1386" y="1567" width="2" height="21" fill="#089981"/>
<rect x="1383" y="1580" width="8" height="3" fill="#089981"/>
<rect x="1397" y="1572" width="2" height="22" fill="#f23645"/>
<rect x="1394" y="1582" width="8" height="2" fill="#f23645"/>
<rect x="1407" y="1566" width="2" height="28" fill="#f23645"/>
<rect x="1404" y="1578" width="8" height="16" fill="#f23645"/>
<rect x="1418" y="1587" width="2" height="22" fill="#f23645"/>
<rect x="1415" y="1593" width="8" height="9" fill="#f23645"/>
<rect x="1429" y="1600" width="2" height="24" fill="#f23645"/>
<rect x="1426" y="1602" width="8" height="17" fill="#f23645"/>
<rect x="1439" y="1552" width="2" height="58" fill="#089981"/>
<rect x="1436" y="1555" width="8" height="55" fill="#089981"/>
<rect x="1438" y="1557" width="4" height="51" fill="#2962ff"/>
<rect x="1450" y="1456" width="2" height="101" fill="#089981"/>
<rect x="1447" y="1490" width="8" height="67" fill="#089981"/>
<rect x="1449" y="1492" width="4" height="63" fill="#2962ff"/>
<rect x="1460" y="1468" width="2" height="25" fill="#089981"/>
<rect x="1457" y="1469" width="8" height="21" fill="#089981"/>
<rect x="1459" y="1471" width="4" height="17" fill="#2962ff"/>
<rect x="1471" y="1432" width="2" height="40" fill="#089981"/>
<rect x="1468" y="1436" width="8" height="30" fill="#089981"/>
<rect x="1470" y="1438" width="4" height="26" fill="#2962ff"/>
<rect x="1481" y="1427" width="2" height="29" fill="#089981"/>
<rect x="1478" y="1432" width="8" height="9" fill="#089981"/>
<rect x="1480" y="1434" width="4" height="5" fill="#2962ff"/>
<rect x="1492" y="1435" width="2" height="60" fill="#f23645"/>
<rect x="1489" y="1438" width="8" height="40" fill="#f23645"/>
<rect x="1502" y="1443" width="2" height="31" fill="#089981"/>
<rect x="1499" y="1452" width="8" height="22" fill="#089981"/>
<rect x="1501" y="1454" width="4" height="18" fill="#2962ff"/>
<rect x="1513" y="1438" width="2" height="72" fill="#f23645"/>
<rect x="1510" y="1450" width="8" height="51" fill="#f23645"/>
<rect x="1523" y="1482" width="2" height="32" fill="#f23645"/>
<rect x="1520" y="1488" width="8" height="14" fill="#f23645"/>
<rect x="1534" y="1495" width="2" height="35" fill="#f23645"/>
<rect x="1531" y="1500" width="8" height="25" fill="#f23645"/>
<rect x="1544" y="1522" width="2" height="65" fill="#f23645"/>
<rect x="1541" y="1526" width="8" height="58" fill="#f23645"/>
<rect x="1555" y="1544" width="2" height="60" fill="#089981"/>
<rect x="1552" y="1574" width="8" height="14" fill="#089981"/>
<rect x="1554" y="1576" width="4" height="10" fill="#2962ff"/>
<rect x="1565" y="1507" width="2" height="67" fill="#089981"/>
<rect x="1562" y="1514" width="8" height="53" fill="#089981"/>
<rect x="1564" y="1516" width="4" height="49" fill="#2962ff"/>
<rect x="1576" y="1516" width="2" height="17" fill="#f23645"/>
<rect x="1573" y="1519" width="8" height="2" fill="#f23645"/>
<rect x="1586" y="1513" width="2" height="28" fill="#f23645"/>
<rect x="1583" y="1518" width="8" height="17" fill="#f23645"/>
<rect x="1597" y="1501" width="2" height="30" fill="#089981"/>
<rect x="1594" y="1520" width="8" height="9" fill="#089981"/>
<rect x="1596" y="1522" width="4" height="5" fill="#2962ff"/>
<rect x="1607" y="1508" width="2" height="35" fill="#089981"/>
<rect x="1604" y="1510" width="8" height="10" fill="#089981"/>
<rect x="1606" y="1512" width="4" height="6" fill="#2962ff"/>
<rect x="1618" y="1495" width="2" height="43" fill="#f23645"/>
<rect x="1615" y="1506" width="8" height="10" fill="#f23645"/>
<rect x="1628" y="1491" width="2" height="23" fill="#089981"/>
<rect x="1625" y="1499" width="8" height="11" fill="#089981"/>
<rect x="1627" y="1501" width="4" height="7" fill="#2962ff"/>
<rect x="1639" y="1470" width="2" height="38" fill="#089981"/>
<rect x="1636" y="1491" width="8" height="4" fill="#089981"/>
<rect x="1649" y="1478" width="2" height="22" fill="#f23645"/>
<rect x="1646" y="1487" width="8" height="6" fill="#f23645"/>
<rect x="1660" y="1484" width="2" height="23" fill="#089981"/>
<rect x="1657" y="1488" width="8" height="5" fill="#089981"/>
<rect x="1659" y="1490" width="4" height="1" fill="#2962ff"/>
<rect x="1671" y="1477" width="2" height="21" fill="#089981"/>
<rect x="1668" y="1480" width="8" height="7" fill="#089981"/>
<rect x="1670" y="1482" width="4" height="3" fill="#2962ff"/>
<rect x="1681" y="1452" width="2" height="27" fill="#089981"/>
<rect x="1678" y="1456" width="8" height="20" fill="#089981"/>
<rect x="1680" y="1458" width="4" height="16" fill="#2962ff"/>
<rect x="1692" y="1454" width="2" height="34" fill="#f23645"/>
<rect x="1689" y="1457" width="8" height="27" fill="#f23645"/>
<rect x="1702" y="1464" width="2" height="35" fill="#089981"/>
<rect x="1699" y="1472" width="8" height="10" fill="#089981"/>
<rect x="1701" y="1474" width="4" height="6" fill="#2962ff"/>
<rect x="1713" y="1462" width="2" height="40" fill="#f23645"/>
<rect x="1710" y="1469" width="8" height="22" fill="#f23645"/>
<rect x="1723" y="1477" width="2" height="25" fill="#f23645"/>
<rect x="1720" y="1492" width="8" height="9" fill="#f23645"/>
<rect x="1734" y="1487" width="2" height="21" fill="#089981"/>
<rect x="1731" y="1497" width="8" height="3" fill="#089981"/>
<rect x="1744" y="1460" width="2" height="62" fill="#089981"/>
<rect x="1741" y="1460" width="8" height="47" fill="#089981"/>
<rect x="1743" y="1462" width="4" height="43" fill="#2962ff"/>
<rect x="1755" y="1429" width="2" height="47" fill="#089981"/>
<rect x="1752" y="1449" width="8" height="12" fill="#089981"/>
<rect x="1754" y="1451" width="4" height="8" fill="#2962ff"/>
<rect x="1765" y="1438" width="2" height="19" fill="#f23645"/>
<rect x="1762" y="1450" width="8" height="7" fill="#f23645"/>
<rect x="1776" y="1452" width="2" height="34" fill="#f23645"/>
<rect x="1773" y="1459" width="8" height="18" fill="#f23645"/>
<rect x="1786" y="1465" width="2" height="24" fill="#f23645"/>
<rect x="1783" y="1476" width="8" height="13" fill="#f23645"/>
<rect x="1797" y="1459" width="2" height="25" fill="#089981"/>
<rect x="1794" y="1482" width="8" height="2" fill="#089981"/>
<rect x="1807" y="1468" width="2" height="41" fill="#f23645"/>
<rect x="1804" y="1477" width="8" height="23" fill="#f23645"/>
<rect x="1818" y="1481" width="2" height="35" fill="#f23645"/>
<rect x="1815" y="1500" width="8" height="5" fill="#f23645"/>
<rect x="1828" y="1490" width="2" height="29" fill="#f23645"/>
<rect x="1825" y="1502" width="8" height="9" fill="#f23645"/>
<rect x="1839" y="1509" width="2" height="34" fill="#f23645"/>
<rect x="1836" y="1512" width="8" height="15" fill="#f23645"/>
<rect x="1849" y="1490" width="2" height="53" fill="#089981"/>
<rect x="1846" y="1494" width="8" height="32" fill="#089981"/>
<rect x="1848" y="1496" width="4" height="28" fill="#2962ff"/>
<rect x="1860" y="1510" width="2" height="32" fill="#f23645"/>
<rect x="1857" y="1514" width="8" height="28" fill="#f23645"/>
<rect x="1870" y="1528" width="2" height="39" fill="#f23645"/>
<rect x="1867" y="1540" width="8" height="25" fill="#f23645"/>
<rect x="1881" y="1522" width="2" height="46" fill="#089981"/>
<rect x="1878" y="1549" width="8" height="15" fill="#089981"/>
<rect x="1880" y="1551" width="4" height="11" fill="#2962ff"/>
<rect x="1892" y="1441" width="2" height="109" fill="#089981"/>
<rect x="1889" y="1516" width="8" height="33" fill="#089981"/>
<rect x="1891" y="1518" width="4" height="29" fill="#2962ff"/>
<rect x="1902" y="1498" width="2" height="30" fill="#f23645"/>
<rect x="1899" y="1509" width="8" height="4" fill="#f23645"/>
<rect x="1913" y="1468" width="2" height="47" fill="#089981"/>
<rect x="1910" y="1469" width="8" height="44" fill="#089981"/>
<rect x="1912" y="1471" width="4" height="40" fill="#2962ff"/>
<rect x="1923" y="1458" width="2" height="50" fill="#f23645"/>
<rect x="1920" y="1469" width="8" height="37" fill="#f23645"/>
<rect x="1934" y="1492" width="2" height="28" fill="#089981"/>
<rect x="1931" y="1493" width="8" height="13" fill="#089981"/>
<rect x="1933" y="1495" width="4" height="9" fill="#2962ff"/>
<rect x="1944" y="1468" width="2" height="33" fill="#089981"/>
<rect x="1941" y="1486" width="8" height="5" fill="#089981"/>
<rect x="1943" y="1488" width="4" height="1" fill="#2962ff"/>
<rect x="1955" y="1472" width="2" height="27" fill="#089981"/>
<rect x="1952" y="1481" width="8" height="5" fill="#089981"/>
<rect x="1954" y="1483" width="4" height="1" fill="#2962ff"/>
<rect x="1965" y="1474" width="2" height="22" fill="#089981"/>
<rect x="1962" y="1488" width="8" height="2" fill="#089981"/>
<rect x="1976" y="1478" width="2" height="22" fill="#f23645"/>
<rect x="1973" y="1487" width="8" height="13" fill="#f23645"/>
<rect x="1986" y="1487" width="2" height="31" fill="#f23645"/>
<rect x="1983" y="1501" width="8" height="10" fill="#f23645"/>
<rect x="1997" y="1504" width="2" height="42" fill="#f23645"/>
<rect x="1994" y="1510" width="8" height="31" fill="#f23645"/>
<rect x="2007" y="1528" width="2" height="24" fill="#f23645"/>
<rect x="2004" y="1540" width="8" height="2" fill="#f23645"/>
<rect x="2018" y="1489" width="2" height="51" fill="#089981"/>
<rect x="2015" y="1502" width="8" height="38" fill="#089981"/>
<rect x="2017" y="1504" width="4" height="34" fill="#2962ff"/>
<rect x="2028" y="1503" width="2" height="32" fill="#f23645"/>
<rect x="2025" y="1511" width="8" height="19" fill="#f23645"/>
<rect x="2039" y="1520" width="2" height="23" fill="#f23645"/>
<rect x="2036" y="1528" width="8" height="15" fill="#f23645"/>
<rect x="2049" y="1523" width="2" height="24" fill="#089981"/>
<rect x="2046" y="1536" width="8" height="3" fill="#089981"/>
<rect x="2060" y="1502" width="2" height="35" fill="#089981"/>
<rect x="2057" y="1507" width="8" height="30" fill="#089981"/>
<rect x="2059" y="1509" width="4" height="26" fill="#2962ff"/>
<rect x="2070" y="1491" width="2" height="41" fill="#f23645"/>
<rect x="2067" y="1507" width="8" height="25" fill="#f23645"/>
<rect x="2081" y="1503" width="2" height="48" fill="#089981"/>
<rect x="2078" y="1509" width="8" height="24" fill="#089981"/>
<rect x="2080" y="1511" width="4" height="20" fill="#2962ff"/>
<rect x="2091" y="1483" width="2" height="40" fill="#089981"/>
<rect x="2088" y="1487" width="8" height="26" fill="#089981"/>
<rect x="2090" y="1489" width="4" height="22" fill="#2962ff"/>
<rect x="2102" y="1449" width="2" height="47" fill="#089981"/>
<rect x="2099" y="1462" width="8" height="23" fill="#089981"/>
<rect x="2101" y="1464" width="4" height="19" fill="#2962ff"/>
<rect x="2112" y="1411" width="2" height="64" fill="#089981"/>
<rect x="2109" y="1415" width="8" height="49" fill="#089981"/>
<rect x="2111" y="1417" width="4" height="45" fill="#2962ff"/>
<rect x="2123" y="1411" width="2" height="49" fill="#f23645"/>
<rect x="2120" y="1420" width="8" height="15" fill="#f23645"/>
<rect x="2134" y="1401" width="2" height="73" fill="#f23645"/>
<rect x="2131" y="1433" width="8" height="36" fill="#f23645"/>
<rect x="2144" y="1439" width="2" height="56" fill="#089981"/>
<rect x="2141" y="1443" width="8" height="32" fill="#089981"/>
<rect x="2143" y="1445" width="4" height="28" fill="#2962ff"/>
<rect x="2155" y="1405" width="2" height="35" fill="#089981"/>
<rect x="2152" y="1417" width="8" height="14" fill="#089981"/>
<rect x="2154" y="1419" width="4" height="10" fill="#2962ff"/>
<rect x="2165" y="1397" width="2" height="36" fill="#089981"/>
<rect x="2162" y="1407" width="8" height="7" fill="#089981"/>
<rect x="2164" y="1409" width="4" height="3" fill="#2962ff"/>
<rect x="2176" y="1379" width="2" height="46" fill="#f23645"/>
<rect x="2173" y="1390" width="8" height="9" fill="#f23645"/>
<rect x="2186" y="1373" width="2" height="43" fill="#f23645"/>
<rect x="2183" y="1402" width="8" height="10" fill="#f23645"/>
<rect x="2197" y="1404" width="2" height="40" fill="#f23645"/>
<rect x="2194" y="1408" width="8" height="23" fill="#f23645"/>
<rect x="2207" y="1414" width="2" height="38" fill="#f23645"/>
<rect x="2204" y="1425" width="8" height="11" fill="#f23645"/>
<rect x="2218" y="1413" width="2" height="27" fill="#f23645"/>
<rect x="2215" y="1425" width="8" height="15" fill="#f23645"/>
<rect x="2228" y="1439" width="2" height="30" fill="#f23645"/>
<rect x="2225" y="1444" width="8" height="23" fill="#f23645"/>
<rect x="2239" y="1432" width="2" height="36" fill="#089981"/>
<rect x="2236" y="1445" width="8" height="16" fill="#089981"/>
<rect x="2238" y="1447" width="4" height="12" fill="#2962ff"/>
<rect x="2249" y="1431" width="2" height="49" fill="#f23645"/>
<rect x="2246" y="1445" width="8" height="27" fill="#f23645"/>
<rect x="2260" y="1417" width="2" height="58" fill="#089981"/>
<rect x="2257" y="1430" width="8" height="31" fill="#089981"/>
<rect x="2259" y="1432" width="4" height="27" fill="#2962ff"/>
<rect x="2270" y="1398" width="2" height="39" fill="#089981"/>
<rect x="2267" y="1425" width="8" height="12" fill="#089981"/>
<rect x="2269" y="1427" width="4" height="8" fill="#2962ff"/>
<rect x="2281" y="1417" width="2" height="31" fill="#f23645"/>
<rect x="2278" y="1433" width="8" height="9" fill="#f23645"/>
<rect x="2291" y="1444" width="2" height="35" fill="#089981"/>
<rect x="2288" y="1452" width="8" height="9" fill="#089981"/>
<rect x="2290" y="1454" width="4" height="5" fill="#2962ff"/>
<rect x="2302" y="1427" width="2" height="57" fill="#089981"/>
<rect x="2299" y="1450" width="8" height="2" fill="#089981"/>
<rect x="2312" y="1440" width="2" height="43" fill="#089981"/>
<rect x="2309" y="1455" width="8" height="18" fill="#089981"/>
<rect x="2311" y="1457" width="4" height="14" fill="#2962ff"/>
<rect x="2323" y="1436" width="2" height="29" fill="#089981"/>
<rect x="2320" y="1438" width="8" height="14" fill="#089981"/>
<rect x="2322" y="1440" width="4" height="10" fill="#2962ff"/>
<rect x="2333" y="1403" width="2" height="36" fill="#089981"/>
<rect x="2330" y="1403" width="8" height="35" fill="#089981"/>
<rect x="2332" y="1405" width="4" height="31" fill="#2962ff"/>
<rect x="2344" y="1387" width="2" height="22" fill="#089981"/>
<rect x="2341" y="1391" width="8" height="16" fill="#089981"/>
<rect x="2343" y="1393" width="4" height="12" fill="#2962ff"/>
<rect x="2354" y="1354" width="2" height="46" fill="#089981"/>
<rect x="2351" y="1359" width="8" height="33" fill="#089981"/>
<rect x="2353" y="1361" width="4" height="29" fill="#2962ff"/>
<rect x="2365" y="1318" width="2" height="48" fill="#089981"/>
<rect x="2362" y="1320" width="8" height="44" fill="#089981"/>
<rect x="2364" y="1322" width="4" height="40" fill="#2962ff"/>
<rect x="2376" y="1278" width="2" height="45" fill="#089981"/>
<rect x="2373" y="1288" width="8" height="35" fill="#089981"/>
<rect x="2375" y="1290" width="4" height="31" fill="#2962ff"/>
<rect x="2386" y="1268" width="2" height="44" fill="#089981"/>
<rect x="2383" y="1268" width="8" height="23" fill="#089981"/>
<rect x="2385" y="1270" width="4" height="19" fill="#2962ff"/>
<rect x="2397" y="1275" width="2" height="92" fill="#f23645"/>
<rect x="2394" y="1278" width="8" height="71" fill="#f23645"/>
<rect x="2407" y="1320" width="2" height="36" fill="#089981"/>
<rect x="2404" y="1323" width="8" height="18" fill="#089981"/>
<rect x="2406" y="1325" width="4" height="14" fill="#2962ff"/>
<rect x="2418" y="1258" width="2" height="75" fill="#089981"/>
<rect x="2415" y="1265" width="8" height="61" fill="#089981"/>
<rect x="2417" y="1267" width="4" height="57" fill="#2962ff"/>
<rect x="2428" y="1250" width="2" height="22" fill="#f23645"/>
<rect x="2425" y="1265" width="8" height="7" fill="#f23645"/>
<rect x="2439" y="1249" width="2" height="39" fill="#f23645"/>
<rect x="2436" y="1254" width="8" height="12" fill="#f23645"/>
<rect x="2449" y="1175" width="2" height="112" fill="#089981"/>
<rect x="2446" y="1182" width="8" height="92" fill="#089981"/>
<rect x="2448" y="1184" width="4" height="88" fill="#2962ff"/>
<rect x="2460" y="1149" width="2" height="36" fill="#089981"/>
<rect x="2457" y="1153" width="8" height="28" fill="#089981"/>
<rect x="2459" y="1155" width="4" height="24" fill="#2962ff"/>
<rect x="2470" y="1133" width="2" height="46" fill="#089981"/>
<rect x="2467" y="1137" width="8" height="16" fill="#089981"/>
<rect x="2469" y="1139" width="4" height="12" fill="#2962ff"/>
<rect x="2481" y="1072" width="2" height="64" fill="#089981"/>
<rect x="2478" y="1080" width="8" height="51" fill="#089981"/>
<rect x="2480" y="1082" width="4" height="47" fill="#2962ff"/>
<rect x="2491" y="978" width="2" height="107" fill="#089981"/>
<rect x="2488" y="992" width="8" height="93" fill="#089981"/>
<rect x="2490" y="994" width="4" height="89" fill="#2962ff"/>
<rect x="2502" y="941" width="2" height="86" fill="#089981"/>
<rect x="2499" y="952" width="8" height="33" fill="#089981"/>
<rect x="2501" y="954" width="4" height="29" fill="#2962ff"/>
<rect x="2512" y="897" width="2" height="60" fill="#089981"/>
<rect x="2509" y="903" width="8" height="54" fill="#089981"/>
<rect x="2511" y="905" width="4" height="50" fill="#2962ff"/>
<rect x="2523" y="893" width="2" height="40" fill="#f23645"/>
<rect x="2520" y="903" width="8" height="16" fill="#f23645"/>
<rect x="2533" y="906" width="2" height="45" fill="#f23645"/>
<rect x="2530" y="927" width="8" height="3" fill="#f23645"/>
<rect x="2544" y="860" width="2" height="157" fill="#089981"/>
<rect x="2541" y="864" width="8" height="69" fill="#089981"/>
<rect x="2543" y="866" width="4" height="65" fill="#2962ff"/>
<rect x="2554" y="846" width="2" height="72" fill="#089981"/>
<rect x="2551" y="858" width="8" height="11" fill="#089981"/>
<rect x="2553" y="860" width="4" height="7" fill="#2962ff"/>
<rect x="2565" y="792" width="2" height="66" fill="#089981"/>
<rect x="2562" y="820" width="8" height="35" fill="#089981"/>
<rect x="2564" y="822" width="4" height="31" fill="#2962ff"/>
<rect x="2575" y="767" width="2" height="96" fill="#089981"/>
<rect x="2572" y="778" width="8" height="50" fill="#089981"/>
<rect x="2574" y="780" width="4" height="46" fill="#2962ff"/>
<rect x="2586" y="659" width="2" height="154" fill="#089981"/>
<rect x="2583" y="667" width="8" height="145" fill="#089981"/>
<rect x="2585" y="669" width="4" height="141" fill="#2962ff"/>
<rect x="2596" y="681" width="2" height="102" fill="#f23645"/>
<rect x="2593" y="686" width="8" height="91" fill="#f23645"/>
<rect x="2607" y="758" width="2" height="78" fill="#f23645"/>
<rect x="2604" y="785" width="8" height="40" fill="#f23645"/>
<rect x="2618" y="697" width="2" height="146" fill="#089981"/>
<rect x="2615" y="722" width="8" height="97" fill="#089981"/>
<rect x="2617" y="724" width="4" height="93" fill="#2962ff"/>
<rect x="2628" y="709" width="2" height="168" fill="#f23645"/>
<rect x="2625" y="723" width="8" height="132" fill="#f23645"/>
<rect x="2639" y="821" width="2" height="207" fill="#f23645"/>
<rect x="2636" y="845" width="8" height="146" fill="#f23645"/>
<rect x="2649" y="919" width="2" height="93" fill="#f23645"/>
<rect x="2646" y="978" width="8" height="6" fill="#f23645"/>
<rect x="2660" y="754" width="2" height="258" fill="#f23645"/>
<rect x="2657" y="971" width="8" height="37" fill="#f23645"/>
<rect x="2670" y="1007" width="2" height="186" fill="#f23645"/>
<rect x="2667" y="1038" width="8" height="130" fill="#f23645"/>
<rect x="2681" y="1080" width="2" height="197" fill="#089981"/>
<rect x="2678" y="1157" width="8" height="66" fill="#089981"/>
<rect x="2680" y="1159" width="4" height="62" fill="#2962ff"/>
<rect x="2691" y="1110" width="2" height="47" fill="#089981"/>
<rect x="2688" y="1125" width="8" height="4" fill="#089981"/>
<rect x="2702" y="1051" width="2" height="84" fill="#089981"/>
<rect x="2699" y="1060" width="8" height="70" fill="#089981"/>
<rect x="2701" y="1062" width="4" height="66" fill="#2962ff"/>
<rect x="2712" y="1002" width="2" height="87" fill="#089981"/>
<rect x="2709" y="1008" width="8" height="52" fill="#089981"/>
<rect x="2711" y="1010" width="4" height="48" fill="#2962ff"/>
<rect x="2723" y="924" width="2" height="98" fill="#089981"/>
<rect x="2720" y="937" width="8" height="56" fill="#089981"/>
<rect x="2722" y="939" width="4" height="52" fill="#2962ff"/>
<rect x="2733" y="815" width="2" height="121" fill="#089981"/>
<rect x="2730" y="836" width="8" height="80" fill="#089981"/>
<rect x="2732" y="838" width="4" height="76" fill="#2962ff"/>
<rect x="2744" y="779" width="2" height="91" fill="#f23645"/>
<rect x="2741" y="835" width="8" height="14" fill="#f23645"/>
<rect x="2754" y="770" width="2" height="62" fill="#f23645"/>
<rect x="2751" y="813" width="8" height="11" fill="#f23645"/>
<rect x="2765" y="774" width="2" height="54" fill="#089981"/>
<rect x="2762" y="802" width="8" height="18" fill="#089981"/>
<rect x="2764" y="804" width="4" height="14" fill="#2962ff"/>
<rect x="2775" y="752" width="2" height="152" fill="#f23645"/>
<rect x="2772" y="801" width="8" height="60" fill="#f23645"/>
<rect x="2786" y="813" width="2" height="77" fill="#f23645"/>
<rect x="2783" y="867" width="8" height="9" fill="#f23645"/>
<rect x="2796" y="752" width="2" height="163" fill="#089981"/>
<rect x="2793" y="752" width="8" height="152" fill="#089981"/>
<rect x="2795" y="754" width="4" height="148" fill="#2962ff"/>
<rect x="2807" y="717" width="2" height="50" fill="#089981"/>
<rect x="2804" y="724" width="8" height="21" fill="#089981"/>
<rect x="2806" y="726" width="4" height="17" fill="#2962ff"/>
<rect x="2817" y="611" width="2" height="110" fill="#089981"/>
<rect x="2814" y="634" width="8" height="87" fill="#089981"/>
<rect x="2816" y="636" width="4" height="83" fill="#2962ff"/>
<rect x="2828" y="562" width="2" height="88" fill="#089981"/>
<rect x="2825" y="589" width="8" height="61" fill="#089981"/>
<rect x="2827" y="591" width="4" height="57" fill="#2962ff"/>
<rect x="2838" y="566" width="2" height="80" fill="#f23645"/>
<rect x="2835" y="570" width="8" height="45" fill="#f23645"/>
<rect x="2849" y="538" width="2" height="101" fill="#f23645"/>
<rect x="2846" y="597" width="8" height="18" fill="#f23645"/>
<rect x="2860" y="575" width="2" height="62" fill="#f23645"/>
<rect x="2857" y="594" width="8" height="21" fill="#f23645"/>
<rect x="2870" y="549" width="2" height="79" fill="#089981"/>
<rect x="2867" y="560" width="8" height="55" fill="#089981"/>
<rect x="2869" y="562" width="4" height="51" fill="#2962ff"/>
<rect x="2881" y="524" width="2" height="57" fill="#089981"/>
<rect x="2878" y="532" width="8" height="30" fill="#089981"/>
<rect x="2880" y="534" width="4" height="26" fill="#2962ff"/>
<rect x="2891" y="530" width="2" height="61" fill="#f23645"/>
<rect x="2888" y="546" width="8" height="37" fill="#f23645"/>
<rect x="2902" y="536" width="2" height="66" fill="#089981"/>
<rect x="2899" y="548" width="8" height="30" fill="#089981"/>
<rect x="2901" y="550" width="4" height="26" fill="#2962ff"/>
<rect x="2912" y="516" width="2" height="75" fill="#f23645"/>
<rect x="2909" y="545" width="8" height="38" fill="#f23645"/>
<rect x="2923" y="550" width="2" height="41" fill="#089981"/>
<rect x="2920" y="575" width="8" height="2" fill="#089981"/>
<rect x="2933" y="558" width="2" height="47" fill="#f23645"/>
<rect x="2930" y="581" width="8" height="2" fill="#f23645"/>
<rect x="2944" y="552" width="2" height="48" fill="#089981"/>
<rect x="2941" y="567" width="8" height="7" fill="#089981"/>
<rect x="2943" y="569" width="4" height="3" fill="#2962ff"/>
<rect x="2954" y="447" width="2" height="132" fill="#089981"/>
<rect x="2951" y="479" width="8" height="88" fill="#089981"/>
<rect x="2953" y="481" width="4" height="84" fill="#2962ff"/>
<rect x="2965" y="452" width="2" height="95" fill="#f23645"/>
<rect x="2962" y="478" width="8" height="69" fill="#f23645"/>
<rect x="2975" y="471" width="2" height="81" fill="#089981"/>
<rect x="2972" y="471" width="8" height="61" fill="#089981"/>
<rect x="2974" y="473" width="4" height="57" fill="#2962ff"/>
<rect x="2986" y="434" width="2" height="62" fill="#089981"/>
<rect x="2983" y="440" width="8" height="27" fill="#089981"/>
<rect x="2985" y="442" width="4" height="23" fill="#2962ff"/>
<rect x="2996" y="395" width="2" height="251" fill="#f23645"/>
<rect x="2993" y="440" width="8" height="206" fill="#f23645"/>
<rect x="3007" y="510" width="2" height="105" fill="#089981"/>
<rect x="3004" y="560" width="8" height="55" fill="#089981"/>
<rect x="3006" y="562" width="4" height="51" fill="#2962ff"/>
<rect x="3017" y="553" width="2" height="91" fill="#f23645"/>
<rect x="3014" y="556" width="8" height="26" fill="#f23645"/>
<rect x="3028" y="496" width="2" height="87" fill="#089981"/>
<rect x="3025" y="512" width="8" height="68" fill="#089981"/>
<rect x="3027" y="514" width="4" height="64" fill="#2962ff"/>
<rect x="3038" y="497" width="2" height="85" fill="#f23645"/>
<rect x="3035" y="522" width="8" height="33" fill="#f23645"/>
<rect x="3049" y="462" width="2" height="97" fill="#089981"/>
<rect x="3046" y="482" width="8" height="59" fill="#089981"/>
<rect x="3048" y="484" width="4" height="55" fill="#2962ff"/>
<rect x="3059" y="398" width="2" height="80" fill="#089981"/>
<rect x="3056" y="416" width="8" height="59" fill="#089981"/>
<rect x="3058" y="418" width="4" height="55" fill="#2962ff"/>
<rect x="3070" y="410" width="2" height="31" fill="#f23645"/>
<rect x="3067" y="413" width="8" height="21" fill="#f23645"/>
<rect x="3080" y="375" width="2" height="103" fill="#089981"/>
<rect x="3077" y="417" width="8" height="14" fill="#089981"/>
<rect x="3079" y="419" width="4" height="10" fill="#2962ff"/>
<rect x="3091" y="343" width="2" height="82" fill="#089981"/>
<rect x="3088" y="401" width="8" height="24" fill="#089981"/>
<rect x="3090" y="403" width="4" height="20" fill="#2962ff"/>
<rect x="3102" y="408" width="2" height="75" fill="#f23645"/>
<rect x="3099" y="413" width="8" height="43" fill="#f23645"/>
<rect x="3112" y="368" width="2" height="127" fill="#089981"/>
<rect x="3109" y="425" width="8" height="58" fill="#089981"/>
<rect x="3111" y="427" width="4" height="54" fill="#2962ff"/>
<rect x="3123" y="400" width="2" height="68" fill="#f23645"/>
<rect x="3120" y="418" width="8" height="7" fill="#f23645"/>
<rect x="3133" y="343" width="2" height="97" fill="#089981"/>
<rect x="3130" y="344" width="8" height="92" fill="#089981"/>
<rect x="3132" y="346" width="4" height="88" fill="#2962ff"/>
<rect x="3144" y="300" width="2" height="94" fill="#f23645"/>
<rect x="3141" y="340" width="8" height="22" fill="#f23645"/>
<rect x="3154" y="302" width="2" height="82" fill="#089981"/>
<rect x="3151" y="346" width="8" height="4" fill="#089981"/>
<rect x="3165" y="240" width="2" height="167" fill="#f23645"/>
<rect x="3162" y="346" width="8" height="56" fill="#f23645"/>
<rect x="3175" y="465" width="2" height="202" fill="#f23645"/>
<rect x="3172" y="572" width="8" height="73" fill="#f23645"/>
<rect x="3186" y="571" width="2" height="152" fill="#089981"/>
<rect x="3183" y="682" width="8" height="27" fill="#089981"/>
<rect x="3185" y="684" width="4" height="23" fill="#2962ff"/>
<rect x="3196" y="631" width="2" height="100" fill="#f23645"/>
<rect x="3193" y="683" width="8" height="33" fill="#f23645"/>
<rect x="3207" y="612" width="2" height="154" fill="#089981"/>
<rect x="3204" y="672" width="8" height="86" fill="#089981"/>
<rect x="3206" y="674" width="4" height="82" fill="#2962ff"/>
<rect x="3217" y="678" width="2" height="27" fill="#f23645"/>
<rect x="3214" y="685" width="8" height="17" fill="#f23645"/>
<line x1="21" y1="702" x2="3402" y2="702" stroke="#f50a1e" stroke-width="2" stroke-dasharray="2 4" stroke-dashoffset="1"/>
<line x1="2902" y1="992" x2="3410" y2="992" stroke="#000" stroke-width="4" stroke-linecap="round"/>
</g>
<text x="3425.00" y="189.0" font-size="33" fill="#131722" textLength="83.96" lengthAdjust="spacingAndGlyphs">480.0</text>
<text x="3425.00" y="269.0" font-size="33" fill="#131722" textLength="83.96" lengthAdjust="spacingAndGlyphs">460.0</text>
<text x="3425.00" y="349.1" font-size="33" fill="#131722" textLength="83.96" lengthAdjust="spacingAndGlyphs">440.0</text>
<text x="3425.00" y="429.1" font-size="33" fill="#131722" textLength="83.96" lengthAdjust="spacingAndGlyphs">420.0</text>
<text x="3425.00" y="509.1" font-size="33" fill="#131722" textLength="83.96" lengthAdjust="spacingAndGlyphs">400.0</text>
<text x="3423.97" y="589.1" font-size="33" fill="#131722" textLength="84.99" lengthAdjust="spacingAndGlyphs">380.0</text>
<text x="3423.97" y="669.2" font-size="33" fill="#131722" textLength="84.99" lengthAdjust="spacingAndGlyphs">360.0</text>
<text x="3423.97" y="749.2" font-size="33" fill="#131722" textLength="84.99" lengthAdjust="spacingAndGlyphs">340.0</text>
<text x="3423.97" y="829.2" font-size="33" fill="#131722" textLength="84.99" lengthAdjust="spacingAndGlyphs">320.0</text>
<text x="3423.97" y="909.2" font-size="33" fill="#131722" textLength="84.99" lengthAdjust="spacingAndGlyphs">300.0</text>
<text x="3423.97" y="989.3" font-size="33" fill="#131722" textLength="84.99" lengthAdjust="spacingAndGlyphs">280.0</text>
<text x="3423.97" y="1069.3" font-size="33" fill="#131722" textLength="84.99" lengthAdjust="spacingAndGlyphs">260.0</text>
<text x="3423.97" y="1149.3" font-size="33" fill="#131722" textLength="84.99" lengthAdjust="spacingAndGlyphs">240.0</text>
<text x="3423.97" y="1229.3" font-size="33" fill="#131722" textLength="84.99" lengthAdjust="spacingAndGlyphs">220.0</text>
<text x="3423.97" y="1309.4" font-size="33" fill="#131722" textLength="104.30" lengthAdjust="spacingAndGlyphs">200.00</text>
<text x="3422.91" y="1389.4" font-size="33" fill="#131722" textLength="105.36" lengthAdjust="spacingAndGlyphs">180.00</text>
<text x="3422.91" y="1469.4" font-size="33" fill="#131722" textLength="105.36" lengthAdjust="spacingAndGlyphs">160.00</text>
<text x="3422.91" y="1549.4" font-size="33" fill="#131722" textLength="105.36" lengthAdjust="spacingAndGlyphs">140.00</text>
<text x="3422.91" y="1629.5" font-size="33" fill="#131722" textLength="105.36" lengthAdjust="spacingAndGlyphs">120.00</text>
<text x="3422.91" y="1709.5" font-size="33" fill="#131722" textLength="105.36" lengthAdjust="spacingAndGlyphs">100.00</text>
<text x="3423.97" y="1789.5" font-size="33" fill="#131722" textLength="84.99" lengthAdjust="spacingAndGlyphs">80.00</text>
<text x="3423.97" y="1869.5" font-size="33" fill="#131722" textLength="84.99" lengthAdjust="spacingAndGlyphs">60.00</text>
<path d="M3404,969 H3520 a4,4 0 0 1 4,4 V1011 a4,4 0 0 1 -4,4 H3404 Z" fill="#000"/>
<text x="3425.26" y="1003" font-size="33" font-weight="400" fill="#fff" textLength="85.85" lengthAdjust="spacingAndGlyphs">276.3</text>
<rect x="3411" y="62" width="134" height="52" rx="9" fill="#fff" stroke="#ebebeb" stroke-width="1.5"/>
<text x="3427.42" y="96.2" font-size="24" font-weight="400" fill="#131722" textLength="49.48" lengthAdjust="spacingAndGlyphs">GBX</text>
<text x="52.35" y="1960.5" font-size="33" font-weight="400" fill="#131722" textLength="40.99" lengthAdjust="spacingAndGlyphs">Jul</text>
<text x="306.13" y="1960.5" font-size="33" font-weight="700" fill="#131722" textLength="78.85" lengthAdjust="spacingAndGlyphs">2021</text>
<text x="599.75" y="1960.5" font-size="33" font-weight="400" fill="#131722" textLength="40.99" lengthAdjust="spacingAndGlyphs">Jul</text>
<text x="853.43" y="1960.5" font-size="33" font-weight="700" fill="#131722" textLength="78.85" lengthAdjust="spacingAndGlyphs">2022</text>
<text x="1146.35" y="1960.5" font-size="33" font-weight="400" fill="#131722" textLength="40.99" lengthAdjust="spacingAndGlyphs">Jul</text>
<text x="1400.53" y="1960.5" font-size="33" font-weight="700" fill="#131722" textLength="78.85" lengthAdjust="spacingAndGlyphs">2023</text>
<text x="1694.15" y="1960.5" font-size="33" font-weight="400" fill="#131722" textLength="40.99" lengthAdjust="spacingAndGlyphs">Jul</text>
<text x="1947.29" y="1960.5" font-size="33" font-weight="700" fill="#131722" textLength="78.85" lengthAdjust="spacingAndGlyphs">2024</text>
<text x="2241.15" y="1960.5" font-size="33" font-weight="400" fill="#131722" textLength="40.99" lengthAdjust="spacingAndGlyphs">Jul</text>
<text x="2505.63" y="1960.5" font-size="33" font-weight="700" fill="#131722" textLength="78.85" lengthAdjust="spacingAndGlyphs">2025</text>
<text x="2798.45" y="1960.5" font-size="33" font-weight="400" fill="#131722" textLength="40.99" lengthAdjust="spacingAndGlyphs">Jul</text>
<text x="3052.93" y="1960.5" font-size="33" font-weight="700" fill="#131722" textLength="78.85" lengthAdjust="spacingAndGlyphs">2026</text>
<text x="3345.85" y="1960.5" font-size="33" font-weight="400" fill="#131722" textLength="40.99" lengthAdjust="spacingAndGlyphs">Jul</text>
<g clip-path="url(#pane)">
<rect x="86.75" y="1871.3" width="35.1" height="35.1" rx="4" fill="#fff" stroke="#434343" stroke-width="2.8"/><path d="M98.95,1880 h11.3 v2.6 h-8.1 v4.5 h7.5 v2.8 h-7.5 v4.3 h8.1 v2.6 h-11.3 Z" fill="#434343"/>
<rect x="401.15" y="1871.3" width="35.1" height="35.1" rx="4" fill="#fff" stroke="#434343" stroke-width="2.8"/><path d="M413.35,1880 h11.3 v2.6 h-8.1 v4.5 h7.5 v2.8 h-7.5 v4.3 h8.1 v2.6 h-11.3 Z" fill="#434343"/>
<rect x="633.45" y="1871.3" width="35.1" height="35.1" rx="4" fill="#fff" stroke="#434343" stroke-width="2.8"/><path d="M645.65,1880 h11.3 v2.6 h-8.1 v4.5 h7.5 v2.8 h-7.5 v4.3 h8.1 v2.6 h-11.3 Z" fill="#434343"/>
<rect x="947.85" y="1871.3" width="35.1" height="35.1" rx="4" fill="#fff" stroke="#434343" stroke-width="2.8"/><path d="M960.05,1880 h11.3 v2.6 h-8.1 v4.5 h7.5 v2.8 h-7.5 v4.3 h8.1 v2.6 h-11.3 Z" fill="#434343"/>
<rect x="1180.05" y="1871.3" width="35.1" height="35.1" rx="4" fill="#fff" stroke="#434343" stroke-width="2.8"/><path d="M1192.25,1880 h11.3 v2.6 h-8.1 v4.5 h7.5 v2.8 h-7.5 v4.3 h8.1 v2.6 h-11.3 Z" fill="#434343"/>
<rect x="1495.95" y="1871.3" width="35.1" height="35.1" rx="4" fill="#fff" stroke="#434343" stroke-width="2.8"/><path d="M1508.15,1880 h11.3 v2.6 h-8.1 v4.5 h7.5 v2.8 h-7.5 v4.3 h8.1 v2.6 h-11.3 Z" fill="#434343"/>
<rect x="1726.75" y="1871.3" width="35.1" height="35.1" rx="4" fill="#fff" stroke="#434343" stroke-width="2.8"/><path d="M1738.95,1880 h11.3 v2.6 h-8.1 v4.5 h7.5 v2.8 h-7.5 v4.3 h8.1 v2.6 h-11.3 Z" fill="#434343"/>
<rect x="2052.65" y="1871.3" width="35.1" height="35.1" rx="4" fill="#fff" stroke="#434343" stroke-width="2.8"/><path d="M2064.85,1880 h11.3 v2.6 h-8.1 v4.5 h7.5 v2.8 h-7.5 v4.3 h8.1 v2.6 h-11.3 Z" fill="#434343"/>
<rect x="2285.35" y="1871.3" width="35.1" height="35.1" rx="4" fill="#fff" stroke="#434343" stroke-width="2.8"/><path d="M2297.55,1880 h11.3 v2.6 h-8.1 v4.5 h7.5 v2.8 h-7.5 v4.3 h8.1 v2.6 h-11.3 Z" fill="#434343"/>
<rect x="2599.95" y="1871.3" width="35.1" height="35.1" rx="4" fill="#fff" stroke="#434343" stroke-width="2.8"/><path d="M2612.15,1880 h11.3 v2.6 h-8.1 v4.5 h7.5 v2.8 h-7.5 v4.3 h8.1 v2.6 h-11.3 Z" fill="#434343"/>
<rect x="2832.25" y="1871.3" width="35.1" height="35.1" rx="4" fill="#fff" stroke="#434343" stroke-width="2.8"/><path d="M2844.45,1880 h11.3 v2.6 h-8.1 v4.5 h7.5 v2.8 h-7.5 v4.3 h8.1 v2.6 h-11.3 Z" fill="#434343"/>
<rect x="3148.05" y="1871.3" width="35.1" height="35.1" rx="4" fill="#fff" stroke="#434343" stroke-width="2.8"/><path d="M3160.25,1880 h11.3 v2.6 h-8.1 v4.5 h7.5 v2.8 h-7.5 v4.3 h8.1 v2.6 h-11.3 Z" fill="#434343"/>
<circle cx="176.5" cy="1888.8" r="19.1" fill="#fff" stroke="#ff9800" stroke-width="2.9"/><text x="176.5" y="1897" font-size="24" font-weight="700" fill="#ff9800" text-anchor="middle">S</text>
<circle cx="2355.0" cy="1888.8" r="19.1" fill="#fff" stroke="#2962ff" stroke-width="2.9"/><text x="2355.0" y="1897" font-size="24" font-weight="700" fill="#2962ff" text-anchor="middle">D</text>
<circle cx="2796.2" cy="1888.8" r="19.1" fill="#fff" stroke="#2962ff" stroke-width="2.9"/><text x="2796.2" y="1897" font-size="24" font-weight="700" fill="#2962ff" text-anchor="middle">D</text>
<circle cx="3028.4" cy="1888.8" r="19.1" fill="#fff" stroke="#2962ff" stroke-width="2.9"/><text x="3028.4" y="1897" font-size="24" font-weight="700" fill="#2962ff" text-anchor="middle">D</text>
<circle cx="3343.6" cy="1888.8" r="19.1" fill="#fff" stroke="#2962ff" stroke-width="2.9"/><text x="3343.6" y="1897" font-size="24" font-weight="700" fill="#2962ff" text-anchor="middle">D</text>
<rect x="3378.45" y="1871.3" width="35.1" height="35.1" rx="4" fill="#fff" stroke="#e040fb" stroke-width="2.8"/><path d="M3390.65,1880 h11.3 v2.6 h-8.1 v4.5 h7.5 v2.8 h-7.5 v4.3 h8.1 v2.6 h-11.3 Z" fill="#e040fb"/>
</g>
<text x="19.80" y="40.2" font-size="25.5" font-weight="400" fill="#131722" textLength="766.89" lengthAdjust="spacingAndGlyphs">crispus9 created with TradingView.com, Mar 30, 2026 13:09 UTC+3</text>
<text x="35.52" y="94.1" font-size="25" font-weight="400" fill="#131722" textLength="620.45" lengthAdjust="spacingAndGlyphs">International Consolidated Airlines Group SA · 1W · LSE</text>
<text x="670.49" y="94.1" font-size="25" font-weight="400" textLength="82.93" lengthAdjust="spacingAndGlyphs"><tspan fill="#131722">O</tspan><tspan fill="#f23645">353.0</tspan></text>
<text x="767.05" y="94.1" font-size="25" font-weight="400" textLength="82.78" lengthAdjust="spacingAndGlyphs"><tspan fill="#131722">H</tspan><tspan fill="#f23645">354.7</tspan></text>
<text x="863.51" y="94.1" font-size="25" font-weight="400" textLength="79.73" lengthAdjust="spacingAndGlyphs"><tspan fill="#131722">L</tspan><tspan fill="#f23645">348.0</tspan></text>
<text x="956.97" y="94.1" font-size="25" font-weight="400" textLength="82.96" lengthAdjust="spacingAndGlyphs"><tspan fill="#131722">C</tspan><tspan fill="#f23645">348.8</tspan></text>
<text x="1055.50" y="94.1" font-size="25" font-weight="400" textLength="109.70" lengthAdjust="spacingAndGlyphs"><tspan fill="#131722">Vol</tspan><tspan fill="#f23645">5.59</tspan><tspan fill="#f23645"> M</tspan></text>
<text x="35.49" y="128" font-size="25" font-weight="400" fill="#131722" textLength="178.74" lengthAdjust="spacingAndGlyphs">EMA (50, close)</text>
<text x="230.40" y="128" font-size="25" font-weight="400" fill="#2962ff" textLength="63.92" lengthAdjust="spacingAndGlyphs">366.2</text>
<g fill="#131313"><path d="M24.1,2030.1 H47.9 V2059.7 H36.2 V2041.6 H24.1 Z"/><circle cx="58" cy="2035.9" r="5.95"/><path d="M70.2,2030.1 H83.7 L71.8,2059.7 H58.1 Z"/></g>
<text x="98.30" y="2060" font-size="42" font-weight="700" fill="#131313" textLength="240.88" lengthAdjust="spacingAndGlyphs">TradingView</text>
</svg></body></html>
